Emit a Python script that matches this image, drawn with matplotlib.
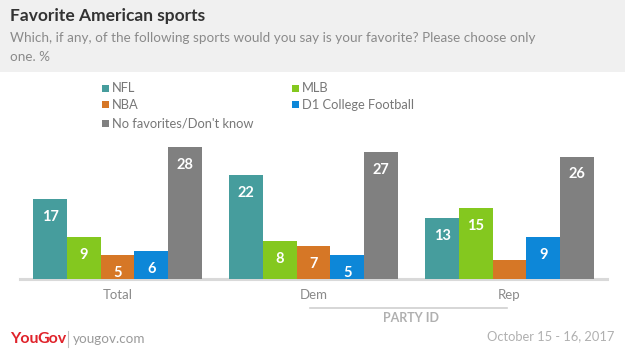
import matplotlib
matplotlib.use("Agg")
import matplotlib.pyplot as plt
from matplotlib.patches import Rectangle
import numpy as np

groups = ["Total", "Dem", "Rep"]
series = ["NFL", "MLB", "NBA", "D1 College Football", "No favorites/Don't know"]
nfl = [17, 22, 13]
mlb = [9, 8, 15]
nba = [5, 7, 4]
d1 = [6, 5, 9]
nofav = [28, 27, 26]
values = [nfl, mlb, nba, d1, nofav]
colors = ["#469d9d", "#84c81f", "#d67726", "#0d87d8", "#808080"]

W, H = 625, 351
fig = plt.figure(figsize=(W/100, H/100), dpi=100)
fam = ["Lato", "DejaVu Sans"]

def fx(px): return px / W
def fy(py): return 1 - py / H

# header background
fig.patches.append(Rectangle((0, fy(72)), 1, 72/H, transform=fig.transFigure,
                             facecolor="#f0f0f0", edgecolor="none", zorder=0))
fig.text(fx(10), fy(16), "Favorite American sports", fontsize=12.5, fontweight="bold",
         color="#333333", family=fam, va="center")
fig.text(fx(10), fy(38), "Which, if any, of the following sports would you say is your favorite? Please choose only",
         fontsize=9.7, color="#8a8a8a", family=fam, va="center")
fig.text(fx(10), fy(57), "one. %", fontsize=9.7, color="#8a8a8a", family=fam, va="center")

# legend
leg_pos = [(102, 88), (292, 88), (102, 105), (292, 105), (102, 123)]
for (lx, ly), name, c in zip(leg_pos, series, colors):
    fig.patches.append(Rectangle((fx(lx), fy(ly + 3.5)), 7/W, 7/H, transform=fig.transFigure,
                                 facecolor=c, edgecolor="none"))
    fig.text(fx(lx + 10), fy(ly), name, fontsize=9.3, color="#777777", family=fam, va="center")

# axes
base = 279
scale = 4.71
ymax = 30
ax = fig.add_axes([fx(20), fy(base), (607 - 20)/W, ymax*scale/H])
ax.set_xlim(-0.497, 2.497)
ax.set_ylim(0, ymax)
ax.axis("off")

x = np.arange(len(groups))
bw = 0.172
for i, (vals, c) in enumerate(zip(values, colors)):
    xs = x + (i - 2) * bw
    ax.bar(xs, vals, width=bw, color=c, edgecolor="none", zorder=2)
    for xv, v in zip(xs, vals):
        if v >= 5:
            ax.text(xv, v - 3.8, str(v), ha="center", va="center", color="white",
                    fontsize=10.5, fontweight="bold", family=fam, zorder=3)
ax.axhline(0, color="#d9d9d9", lw=2.2, zorder=1, clip_on=False)

for xv, g in zip(x, groups):
    ax.text(xv, -3.4, g, ha="center", va="center", fontsize=9.5, color="#8a8a8a", family=fam)

# party id bracket
fig.add_artist(plt.Line2D([fx(310), fx(507)], [fy(308), fy(308)], color="#d0d0d0", lw=1.2,
                          transform=fig.transFigure))
fig.text(fx(411), fy(318), "PARTY ID", fontsize=9, fontweight="bold", color="#b0b0b0",
         family=fam, ha="center", va="center")

# footer
fig.text(fx(10), fy(339), "You", fontsize=11.5, fontweight="bold", color="#e0232b",
         family=fam, va="center")
fig.text(fx(37), fy(339), "Gov", fontsize=11.5, fontweight="bold", color="#e0232b",
         family=fam, va="center")
fig.add_artist(plt.Line2D([fx(68), fx(68)], [fy(331), fy(347)], color="#c0c0c0", lw=0.8,
                          transform=fig.transFigure))
fig.text(fx(73), fy(339), "yougov.com", fontsize=9.7, color="#9a9a9a", family=fam, va="center")
fig.text(fx(614), fy(336), "October 15 - 16, 2017", fontsize=9.3, color="#b0b0b0",
         family=fam, ha="right", va="center")

fig.savefig("out.png", dpi=100)
